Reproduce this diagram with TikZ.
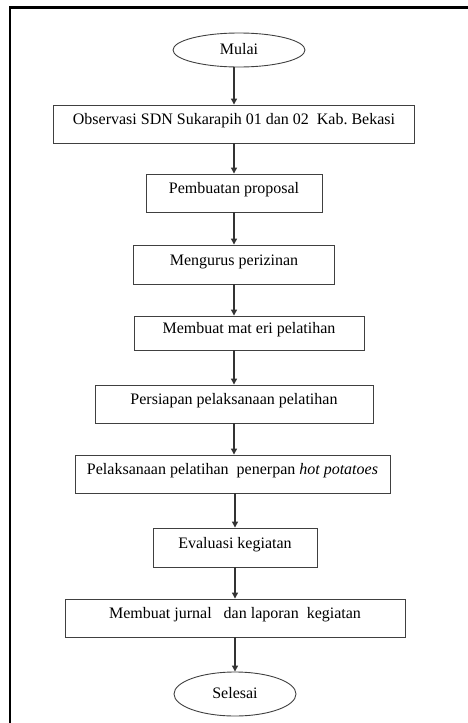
\documentclass[tikz,border=0pt]{standalone}
\usepackage{fontspec}
\setmainfont{Liberation Serif}
\usetikzlibrary{arrows.meta,shapes.geometric}
\frenchspacing
\begin{document}
\begin{tikzpicture}[x=1pt,y=-1pt,
  stepbox/.style={draw=black!75, line width=0.9pt, rectangle, minimum height=38pt,
    inner sep=0pt, text height=9pt, text depth=8pt, font=\fontsize{16}{18}\selectfont},
  termbox/.style={draw=black!75, line width=0.9pt, ellipse, inner sep=0pt,
    text height=9pt, text depth=1pt, font=\fontsize{16}{18}\selectfont},
  flow/.style={draw=black!80, line width=1.2pt, -{Triangle[length=6pt,width=6pt]}}]

  \useasboundingbox (0,0) rectangle (468,723);

  % Outer frame (cut at the right and bottom)
  \draw[line width=2.5pt] (10,723) -- (10,7.5) -- (468,7.5);

  % Start and end
  \node[termbox, minimum width=132pt, minimum height=34pt] (mulai) at (239,50) {Mulai};
  \node[termbox, minimum width=122pt, minimum height=44pt] (selesai) at (235,694) {Selesai};

  % Steps
  \node[stepbox, minimum width=361pt] (observasi) at (234,124) {Observasi SDN Sukarapih 01 dan 02\ \ Kab. Bekasi};
  \node[stepbox, minimum width=176pt] (proposal) at (234,193) {Pembuatan proposal};
  \node[stepbox, minimum width=201pt, minimum height=39pt] (izin) at (234,264.5) {Mengurus perizinan};
  \node[stepbox, minimum width=230pt, minimum height=34pt] (materi) at (249,333) {Membuat mat eri pelatihan};
  \node[stepbox, minimum width=278pt] (persiapan) at (234,404) {Persiapan pelaksanaan pelatihan};
  \node[stepbox, minimum width=315pt] (pelaksanaan) at (232.5,474) {Pelaksanaan pelatihan\ \ penerpan \textit{hot potatoes}};
  \node[stepbox, minimum width=164pt, minimum height=39pt] (evaluasi) at (235,547.5) {Evaluasi kegiatan};
  \node[stepbox, minimum width=340pt] (jurnal) at (235,618) {Membuat jurnal\ \ \ dan laporan\ \ kegiatan};

  % Arrows
  \draw[flow] (observasi.north |- mulai.south) -- (observasi.north);
  \draw[flow] (observasi.south) -- (proposal.north);
  \draw[flow] (proposal.south) -- (izin.north);
  \draw[flow] (izin.south) -- (izin.south |- materi.north);
  \draw[flow] (persiapan.north |- materi.south) -- (persiapan.north);
  \draw[flow] (persiapan.south) -- (persiapan.south |- pelaksanaan.north);
  \draw[flow] (evaluasi.north |- pelaksanaan.south) -- (evaluasi.north);
  \draw[flow] (evaluasi.south) -- (jurnal.north);
  \draw[flow] (jurnal.south) -- (selesai.north);

\end{tikzpicture}
\end{document}
